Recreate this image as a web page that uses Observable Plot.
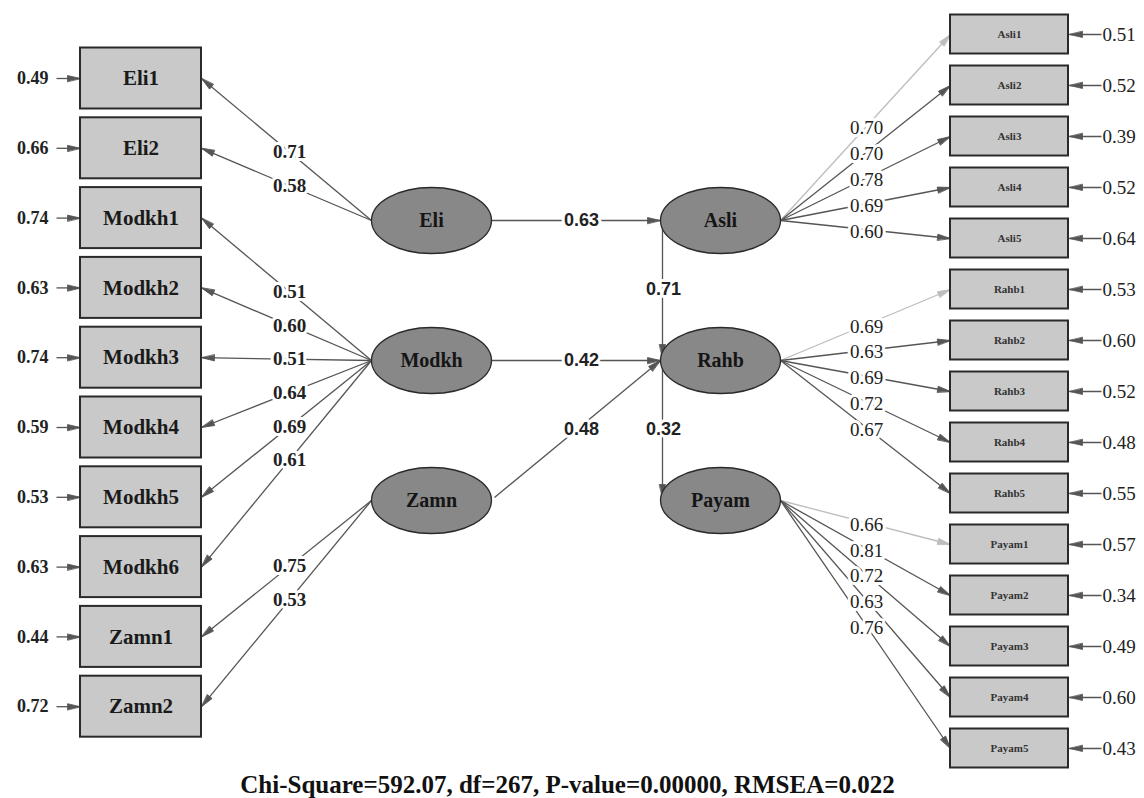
<!DOCTYPE html>
<html>
<head>
<meta charset="utf-8">
<script src="https://cdn.jsdelivr.net/npm/d3@7"></script>
<script src="https://cdn.jsdelivr.net/npm/@observablehq/plot@0.6"></script>
<style>
  html, body { margin: 0; padding: 0; background: #fff; }
  #chart svg { display: block; }
</style>
</head>
<body>
<div id="chart"></div>
<script>
// ---------- data ----------
const exogenous = ["Eli", "Modkh", "Zamn"];
const endogenous = ["Asli", "Rahb", "Payam"];

const leftIndicators = ["Eli1", "Eli2", "Modkh1", "Modkh2", "Modkh3", "Modkh4", "Modkh5", "Modkh6", "Zamn1", "Zamn2"];
const leftFactor = ["Eli", "Eli", "Modkh", "Modkh", "Modkh", "Modkh", "Modkh", "Modkh", "Zamn", "Zamn"];
const leftLoadings = [0.71, 0.58, 0.51, 0.60, 0.51, 0.64, 0.69, 0.61, 0.75, 0.53];
const leftErrors = [0.49, 0.66, 0.74, 0.63, 0.74, 0.59, 0.53, 0.63, 0.44, 0.72];

const rightIndicators = ["Asli1", "Asli2", "Asli3", "Asli4", "Asli5", "Rahb1", "Rahb2", "Rahb3", "Rahb4", "Rahb5", "Payam1", "Payam2", "Payam3", "Payam4", "Payam5"];
const rightFactor = ["Asli", "Asli", "Asli", "Asli", "Asli", "Rahb", "Rahb", "Rahb", "Rahb", "Rahb", "Payam", "Payam", "Payam", "Payam", "Payam"];
const rightLoadings = [0.70, 0.70, 0.78, 0.69, 0.60, 0.69, 0.63, 0.69, 0.72, 0.67, 0.66, 0.81, 0.72, 0.63, 0.76];
const rightErrors = [0.51, 0.52, 0.39, 0.52, 0.64, 0.53, 0.60, 0.52, 0.48, 0.55, 0.57, 0.34, 0.49, 0.60, 0.43];

const structFrom = ["Eli", "Modkh", "Zamn", "Asli", "Rahb"];
const structTo = ["Asli", "Rahb", "Rahb", "Rahb", "Payam"];
const structCoef = [0.63, 0.42, 0.48, 0.71, 0.32];

const fitCaption = "Chi-Square=592.07, df=267, P-value=0.00000, RMSEA=0.022";

// ---------- layout ----------
const W = 1144, H = 798;
const RX = 60, RY = 33;
const exoX = 431, endoX = 720;
const latY = i => 220 + 140 * i;
const latentPos = {};
exogenous.forEach((n, i) => latentPos[n] = {x: exoX, y: latY(i)});
endogenous.forEach((n, i) => latentPos[n] = {x: endoX, y: latY(i)});

const LB = {x1: 80, x2: 201, h: 61, y0: 78, dy: 69.8};
const RB = {x1: 950, x2: 1068, h: 39, y0: 34, dy: 51};

const fmt = v => v.toFixed(2);

const leftBoxes = leftIndicators.map((name, i) => ({name, y: LB.y0 + LB.dy * i}));
const rightBoxes = rightIndicators.map((name, i) => ({name, y: RB.y0 + RB.dy * i}));

// loading paths
const lines = [];
const labels = [];
leftBoxes.forEach((b, i) => {
  const L = latentPos[leftFactor[i]];
  const sx = L.x - RX, sy = L.y, ex = LB.x2, ey = b.y;
  lines.push({x1: sx, y1: sy, x2: ex, y2: ey, c: "#555"});
  const t = (sx - 289) / (sx - ex);
  labels.push({x: 289, y: sy + (ey - sy) * t, text: fmt(leftLoadings[i]), kind: "lb"});
});
const firstOf = new Set([0, 5, 10]);
rightBoxes.forEach((b, i) => {
  const L = latentPos[rightFactor[i]];
  const sx = L.x + RX, sy = L.y, ex = RB.x1, ey = b.y;
  lines.push({x1: sx, y1: sy, x2: ex, y2: ey, c: firstOf.has(i) ? "#bdbdbd" : "#555"});
  const t = (866 - sx) / (ex - sx);
  labels.push({x: 866, y: sy + (ey - sy) * t + 2, text: fmt(rightLoadings[i]), kind: "r"});
});
// structural paths
structFrom.forEach((f, i) => {
  const A = latentPos[f], B = latentPos[structTo[i]];
  let x1, y1, x2, y2, lx, ly;
  if (A.x === B.x) { // vertical between endogenous
    x1 = A.x - RX + 2; y1 = A.y + 1; x2 = B.x - RX + 2; y2 = B.y - 3;
    lx = x1 + 1; ly = (y1 + y2) / 2;
  } else {
    x1 = A.x + RX + (A.y === B.y ? 0 : 3); y1 = A.y + (A.y === B.y ? 0 : -3);
    x2 = B.x - RX; y2 = B.y;
    lx = 581; ly = y1 + (y2 - y1) * (lx - x1) / (x2 - x1) + (A.y === B.y ? 0 : 4);
  }
  lines.push({x1, y1, x2, y2, c: "#555"});
  labels.push({x: lx, y: ly, text: fmt(structCoef[i]), kind: "s"});
});
// error arrows
leftBoxes.forEach((b, i) => {
  lines.push({x1: 56, y1: b.y, x2: LB.x1, y2: b.y, c: "#555"});
});
rightBoxes.forEach((b, i) => {
  lines.push({x1: 1101, y1: b.y, x2: RB.x2 + 1, y2: b.y, c: "#555"});
});

const heads = lines.map(d => ({
  x: d.x2, y: d.y2, c: d.c,
  rot: Math.atan2(d.x2 - d.x1, -(d.y2 - d.y1)) * 180 / Math.PI
}));

const headShape = {
  draw(ctx, l, r) {
    ctx.moveTo(0, -l);
    ctx.lineTo(-r, 0);
    ctx.lineTo(r, 0);
    ctx.closePath();
  }
};
const ellipseSymbol = {
  draw(ctx) {
    const k = 0.5522847;
    ctx.moveTo(RX, 0);
    ctx.bezierCurveTo(RX, RY * k, RX * k, RY, 0, RY);
    ctx.bezierCurveTo(-RX * k, RY, -RX, RY * k, -RX, 0);
    ctx.bezierCurveTo(-RX, -RY * k, -RX * k, -RY, 0, -RY);
    ctx.bezierCurveTo(RX * k, -RY, RX, -RY * k, RX, 0);
    ctx.closePath();
  }
};

const latents = [...exogenous, ...endogenous].map(n => ({name: n, ...latentPos[n]}));
const serif = "'Liberation Serif', 'Times New Roman', serif";
const sans = "'Liberation Sans', Arial, sans-serif";

const chart = Plot.plot({
  width: W, height: H,
  margin: 0,
  x: {domain: [0, W], range: [0, W], axis: null},
  y: {domain: [0, H], range: [0, H], axis: null},
  marks: [
    Plot.link(lines, {x1: "x1", y1: "y1", x2: "x2", y2: "y2", stroke: d => d.c, strokeWidth: 1.3}),
    Plot.vector(heads, {x: "x", y: "y", rotate: "rot", length: 13, r: 3, anchor: "end", shape: headShape, fill: d => d.c, stroke: d => d.c, strokeWidth: 0.8}),
    Plot.rect(leftBoxes, {x1: LB.x1, x2: LB.x2, y1: d => d.y - LB.h / 2, y2: d => d.y + LB.h / 2, fill: "#c9c9c9", stroke: "#2a2a2a", strokeWidth: 2}),
    Plot.rect(rightBoxes, {x1: RB.x1, x2: RB.x2, y1: d => d.y - RB.h / 2, y2: d => d.y + RB.h / 2, fill: "#c9c9c9", stroke: "#2a2a2a", strokeWidth: 2}),
    Plot.text(leftBoxes, {x: (LB.x1 + LB.x2) / 2, y: "y", text: "name", fontFamily: serif, fontWeight: "bold", fontSize: 21, fill: "#1a1a1a"}),
    Plot.text(rightBoxes, {x: (RB.x1 + RB.x2) / 2, y: "y", text: "name", fontFamily: serif, fontWeight: "bold", fontSize: 11, fill: "#333"}),
    Plot.dot(latents, {x: "x", y: "y", symbol: ellipseSymbol, fill: "#888", stroke: "#2a2a2a", strokeWidth: 1.3}),
    Plot.text(latents, {x: "x", y: "y", text: "name", fontFamily: serif, fontWeight: "bold", fontSize: 20, fill: "#151515"}),
    Plot.text(labels.filter(d => d.kind === "lb"), {x: "x", y: "y", text: "text", fontFamily: serif, fontWeight: "bold", fontSize: 19, fill: "#222", stroke: "white", strokeWidth: 6}),
    Plot.text(labels.filter(d => d.kind === "r"), {x: "x", y: "y", text: "text", fontFamily: serif, fontSize: 19, fill: "#222", stroke: "white", strokeWidth: 6}),
    Plot.text(labels.filter(d => d.kind === "s"), {x: "x", y: "y", text: "text", fontFamily: sans, fontWeight: "bold", fontSize: 18, fill: "#222", stroke: "white", strokeWidth: 6}),
    Plot.text(leftBoxes, {x: 48, y: "y", text: (d, i) => fmt(leftErrors[i]), textAnchor: "end", fontFamily: serif, fontWeight: "bold", fontSize: 18, fill: "#222"}),
    Plot.text(rightBoxes, {x: 1102, y: "y", text: (d, i) => fmt(rightErrors[i]), textAnchor: "start", fontFamily: serif, fontSize: 19, fill: "#222"}),
    Plot.text([fitCaption], {x: 567, y: 784, text: d => d, fontFamily: serif, fontWeight: "bold", fontSize: 25, fill: "#111"})
  ]
});
document.getElementById("chart").appendChild(chart);
</script>
</body>
</html>
